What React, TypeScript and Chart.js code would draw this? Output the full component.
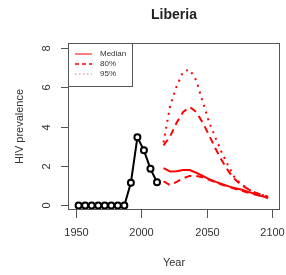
import React, { useEffect, useRef } from "react";
import { Chart, registerables } from "chart.js";

Chart.register(...registerables);

const titleText = "Liberia";
const xTitle = "Year";
const yTitle = "HIV prevalence";
const xTicks = [1950, 2000, 2050, 2100];
const yTicks = [0, 2, 4, 6, 8];

const obsYears = [1952, 1957, 1962, 1967, 1972, 1977, 1982, 1987, 1992, 1997, 2002, 2007, 2012];
const obsValues = [0, 0, 0, 0, 0, 0, 0, 0, 1.15, 3.46, 2.8, 1.86, 1.18];

const projYears = [2017, 2022, 2027, 2032, 2037, 2042, 2047, 2052, 2057, 2062, 2067, 2072, 2077, 2082, 2087, 2092, 2097];
const median = [1.9, 1.72, 1.74, 1.8, 1.8, 1.66, 1.5, 1.33, 1.2, 1.08, 0.97, 0.87, 0.8, 0.69, 0.58, 0.48, 0.39];
const lower80 = [1.23, 1.03, 1.2, 1.38, 1.5, 1.5, 1.43, 1.3, 1.17, 1.05, 0.94, 0.84, 0.75, 0.65, 0.56, 0.47, 0.38];
const upper80 = [3.05, 3.5, 4.2, 4.75, 5.0, 4.75, 4.2, 3.55, 2.85, 2.24, 1.7, 1.3, 1.02, 0.82, 0.66, 0.54, 0.45];
const upper95 = [3.2, 5.05, 6.05, 6.8, 6.9, 6.35, 5.26, 4.2, 3.4, 2.62, 1.95, 1.35, 1.05, 0.82, 0.66, 0.54, 0.45];

const legendLabels = ["Median", "80%", "95%"];

const RED = "#ff0000";
const TEXT = "#333333";
const AXIS = "#555555";
const FONT = "'Liberation Sans', Arial, sans-serif";

const toPts = (xs: number[], ys: number[]) => xs.map((x, i) => ({ x, y: ys[i] }));

export default function App() {
  const ref = useRef<HTMLCanvasElement | null>(null);

  useEffect(() => {
    if (!ref.current) return;
    const decor = {
      id: "decor",
      afterDatasetsDraw(chart: any) {
        const ctx = chart.ctx as CanvasRenderingContext2D;
        const { left, right, top, bottom } = chart.chartArea;
        const xs = chart.scales.x;
        const ys = chart.scales.y;
        ctx.save();
        ctx.strokeStyle = AXIS;
        ctx.lineWidth = 1;
        ctx.strokeRect(left + 0.5, top + 0.5, right - left - 1, bottom - top - 1);
        ctx.fillStyle = TEXT;
        ctx.font = `11px ${FONT}`;
        ctx.textAlign = "center";
        ctx.textBaseline = "middle";
        for (const t of xTicks) {
          const px = Math.round(xs.getPixelForValue(t)) + 0.5;
          ctx.beginPath();
          ctx.moveTo(px, bottom);
          ctx.lineTo(px, bottom + 8);
          ctx.stroke();
          ctx.fillText(String(t), px, bottom + 23);
        }
        for (const t of yTicks) {
          const py = Math.round(ys.getPixelForValue(t)) + 0.5;
          ctx.beginPath();
          ctx.moveTo(left, py);
          ctx.lineTo(left - 7, py);
          ctx.stroke();
          ctx.save();
          ctx.translate(47, py);
          ctx.rotate(-Math.PI / 2);
          ctx.fillText(String(t), 0, 0);
          ctx.restore();
        }
        ctx.font = `bold 14px ${FONT}`;
        ctx.fillStyle = "#222";
        ctx.fillText(titleText, (left + right) / 2, 15);
        ctx.font = `11px ${FONT}`;
        ctx.fillStyle = TEXT;
        ctx.fillText(xTitle, (left + right) / 2, 263);
        ctx.save();
        ctx.translate(20, (top + bottom) / 2);
        ctx.rotate(-Math.PI / 2);
        ctx.fillText(yTitle, 0, 0);
        ctx.restore();
        const lx = left, ly = top, lw = 64, lh = 43;
        ctx.fillStyle = "#ffffff";
        ctx.fillRect(lx, ly, lw, lh);
        ctx.strokeStyle = AXIS;
        ctx.strokeRect(lx + 0.5, ly + 0.5, lw, lh);
        const dashes = [[], [4, 3], [1.5, 2.5]];
        const colors = ["#ff5555", RED, "#ff9999"];
        ctx.font = `8px ${FONT}`;
        ctx.textAlign = "left";
        legendLabels.forEach((lab, i) => {
          const yy = 54 + i * 10;
          ctx.beginPath();
          ctx.setLineDash(dashes[i]);
          ctx.strokeStyle = colors[i];
          ctx.lineWidth = 1.5;
          ctx.moveTo(75, yy);
          ctx.lineTo(92, yy);
          ctx.stroke();
          ctx.setLineDash([]);
          ctx.fillStyle = TEXT;
          ctx.fillText(lab, 100, yy);
        });
        ctx.restore();
      },
    };

    const chart = new Chart(ref.current, {
      type: "line",
      data: {
        datasets: [
          {
            label: "Observed",
            data: toPts(obsYears, obsValues),
            borderColor: "#000",
            borderWidth: 2,
            pointRadius: 3,
            pointBorderWidth: 2,
            pointBackgroundColor: "#fff",
            pointBorderColor: "#000",
          },
          {
            label: "Median",
            data: toPts(projYears, median),
            borderColor: RED,
            borderWidth: 2,
            pointRadius: 0,
          },
          {
            label: "80% lower",
            data: toPts(projYears, lower80),
            borderColor: RED,
            borderWidth: 2,
            borderDash: [7, 5],
            pointRadius: 0,
          },
          {
            label: "80% upper",
            data: toPts(projYears, upper80),
            borderColor: RED,
            borderWidth: 2,
            borderDash: [7, 5],
            pointRadius: 0,
          },
          {
            label: "95% upper",
            data: toPts(projYears, upper95),
            borderColor: RED,
            borderWidth: 2,
            borderDash: [2, 5],
            pointRadius: 0,
          },
        ],
      },
      options: {
        animation: false,
        responsive: false,
        maintainAspectRatio: false,
        layout: { padding: { left: 68, right: 6, top: 43, bottom: 65 } },
        plugins: { legend: { display: false }, title: { display: false }, tooltip: { enabled: false } },
        scales: {
          x: { type: "linear", display: false, min: 1943.9, max: 2106.1 },
          y: { type: "linear", display: false, min: -0.23, max: 8.25 },
        },
      },
      plugins: [decor],
    });
    return () => chart.destroy();
  }, []);

  return (
    <div style={{ position: "fixed", left: 0, top: 0, width: 286, height: 275, background: "#fff" }}>
      <canvas ref={ref} width={286} height={275} style={{ width: 286, height: 275, display: "block" }} />
    </div>
  );
}
